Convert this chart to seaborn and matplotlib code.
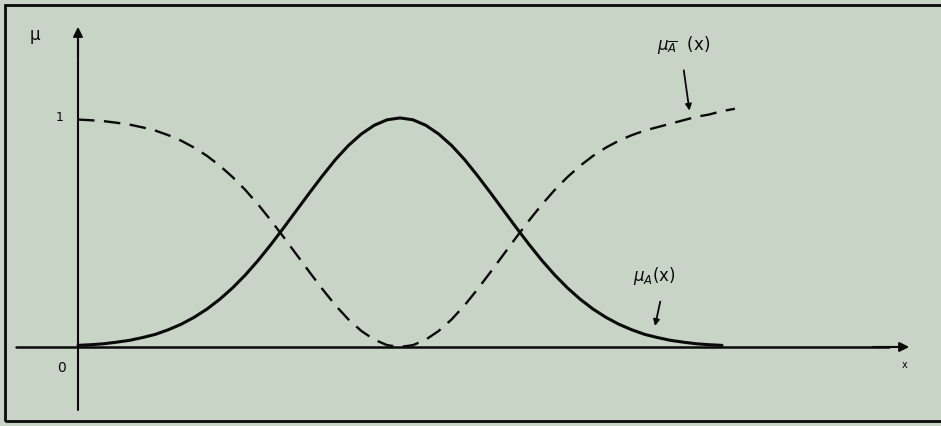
import numpy as np
import pandas as pd
import matplotlib
matplotlib.use("Agg")
import matplotlib.pyplot as plt
from matplotlib.patches import Rectangle
import seaborn as sns

# Werte (x in willkuerlichen Einheiten, Ursprung = y-Achse)
x_vals = [0.0, 0.2, 0.4, 0.6, 0.8, 1.0, 1.2, 1.4, 1.6, 1.8, 2.0, 2.2, 2.4, 2.6, 2.8, 3.0, 3.2,
          3.4, 3.6, 3.8, 4.0, 4.2, 4.4, 4.6, 4.8, 5.0, 5.2, 5.4, 5.6, 5.8, 6.0, 6.2, 6.4, 6.6,
          6.8, 7.0, 7.2, 7.4, 7.6, 7.8, 8.0, 8.2, 8.4, 8.6, 8.8, 9.0, 9.2, 9.4, 9.6, 9.8, 10.0,
          10.2]

# mu_A(x): Glockenkurve (durchgezogen)
mu_a = [0.007, 0.010, 0.014, 0.021, 0.029, 0.041, 0.055, 0.075, 0.099, 0.129, 0.165, 0.208,
        0.258, 0.315, 0.379, 0.449, 0.523, 0.599, 0.675, 0.749, 0.819, 0.880, 0.930, 0.968,
        0.992, 1.000, 0.992, 0.968, 0.930, 0.880, 0.819, 0.749, 0.675, 0.599, 0.523, 0.449,
        0.379, 0.315, 0.258, 0.208, 0.165, 0.129, 0.099, 0.075, 0.055, 0.041, 0.029, 0.021,
        0.014, 0.010, 0.007, None]

# mu_A-quer(x): Komplement (gestrichelt)
mu_not_a = [0.993, 0.990, 0.986, 0.979, 0.971, 0.959, 0.945, 0.925, 0.901, 0.871, 0.835, 0.792,
            0.742, 0.685, 0.621, 0.551, 0.477, 0.401, 0.325, 0.251, 0.181, 0.120, 0.070, 0.032,
            0.008, 0.000, 0.008, 0.032, 0.070, 0.120, 0.181, 0.251, 0.325, 0.401, 0.477, 0.551,
            0.621, 0.685, 0.742, 0.792, 0.835, 0.871, 0.901, 0.925, 0.945, 0.960, 0.975, 0.990,
            1.005, 1.015, 1.030, 1.040]

BG = "#c8d4c5"
INK = "#0a0a0a"

df = pd.DataFrame({"x": x_vals, "mu_a": mu_a, "mu_not_a": mu_not_a})
df_a = df.dropna(subset=["mu_a"])

sns.set_style("white")
fig = plt.figure(figsize=(9.41, 4.26), dpi=100)
fig.patch.set_facecolor(BG)
ax = fig.add_axes([0, 0, 1, 1])
ax.set_facecolor(BG)

sns.lineplot(data=df_a, x="x", y="mu_a", ax=ax, color=INK, linewidth=2.2)
sns.lineplot(data=df, x="x", y="mu_not_a", ax=ax, color=INK, linewidth=1.7)
ax.lines[-1].set_dashes((7, 4))

ax.set_xlim(-1.211, 13.40)
ax.set_ylim(-0.345, 1.515)
ax.set_axis_off()

# Achsen mit Pfeilen
ax.plot([0, 0], [-0.275, 1.33], color=INK, lw=1.5)
ax.annotate("", xy=(0, 1.41), xytext=(0, 1.25),
            arrowprops=dict(arrowstyle="-|>", color=INK, lw=1.5, mutation_scale=14))
ax.plot([-0.963, 12.6], [0, 0], color=INK, lw=1.8)
ax.annotate("", xy=(12.95, 0), xytext=(12.3, 0),
            arrowprops=dict(arrowstyle="-|>", color=INK, lw=1.5, mutation_scale=14))

# Beschriftungen
ax.text(-0.67, 1.36, "μ", fontsize=12, color=INK, ha="center", va="center")
ax.text(-0.28, 1.00, "1", fontsize=9, color=INK, ha="center", va="center")
ax.text(-0.25, -0.09, "0", fontsize=10, color=INK, ha="center", va="center")
ax.text(12.84, -0.08, "x", fontsize=7, color=INK, ha="center", va="center")

ax.text(9.4, 1.32, r"$\mu_{\overline{A}}$  (x)", fontsize=12, color=INK, ha="center", va="center")
ax.annotate("", xy=(9.5, 1.02), xytext=(9.4, 1.22),
            arrowprops=dict(arrowstyle="-|>", color=INK, lw=1.3, mutation_scale=9))

ax.text(8.95, 0.31, r"$\mu_A$(x)", fontsize=12, color=INK, ha="center", va="center")
ax.annotate("", xy=(8.95, 0.08), xytext=(9.05, 0.21),
            arrowprops=dict(arrowstyle="-|>", color=INK, lw=1.3, mutation_scale=9))

# Rahmen
ax.add_patch(Rectangle((0.0053, 0.0117), 1.1, 0.977, transform=ax.transAxes,
                       fill=False, edgecolor=INK, lw=2, clip_on=False))

fig.savefig("out.png", dpi=100, facecolor=BG)
